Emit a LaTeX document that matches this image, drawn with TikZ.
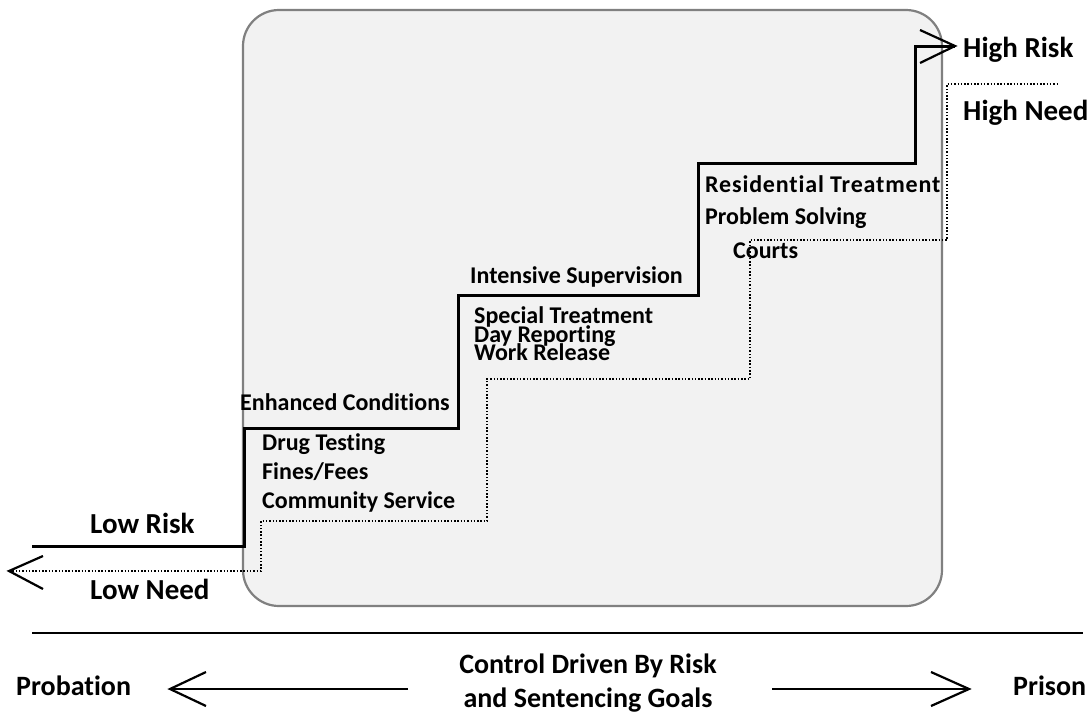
\documentclass[tikz,border=0pt]{standalone}
\usepackage{fontspec}
\setmainfont{Carlito}[Ligatures=CommonOff, RawFeature={-liga;-clig;-dlig;-calt}]
\definecolor{boxfill}{HTML}{F2F2F2}
\definecolor{boxedge}{HTML}{808080}
\tikzset{
  lbl/.style={anchor=base west, inner sep=0pt, font=\bfseries\fontsize{24}{24}\selectfont},
  biglbl/.style={anchor=base west, inner sep=0pt, font=\bfseries\fontsize{29}{29}\selectfont},
  botlbl/.style={anchor=base, inner sep=0pt, font=\bfseries\fontsize{28}{28}\selectfont},
  riskline/.style={line width=3pt, line join=miter},
  needline/.style={line width=2pt, dash pattern=on 1.5pt off 1.8pt},
  barb/.style={line width=2.2pt, line join=miter},
}
\begin{document}
\begin{tikzpicture}[x=1pt,y=-1pt]
\useasboundingbox (0,0) rectangle (1090,715);
% background box
\draw[rounded corners=36pt, fill=boxfill, draw=boxedge, line width=2.2pt] (243,10) rectangle (942,606);
% need (dotted) staircase
\coordinate (n0) at (9,571);
\coordinate (n1) at (261,571);
\coordinate (n2) at (261,521);
\coordinate (n3) at (487,521);
\coordinate (n4) at (487,379);
\coordinate (n5) at (750,379);
\coordinate (n6) at (750,240);
\coordinate (n7) at (947,240);
\coordinate (n8) at (947,84);
\coordinate (n9) at (1057,84);
\draw[needline] (n0) -- (n1) -- (n2) -- (n3) -- (n4) -- (n5) -- (n6) -- (n7) -- (n8) -- (n9);
\coordinate (na1) at (43,556);
\coordinate (na2) at (43,589);
\draw[barb] (na1) -- (n0) -- (na2);
% risk (solid) staircase
\coordinate (r0) at (32,546);
\coordinate (r1) at (244,546);
\coordinate (r2) at (244,428);
\coordinate (r3) at (458,428);
\coordinate (r4) at (458,295);
\coordinate (r5) at (698,295);
\coordinate (r6) at (698,163);
\coordinate (r7) at (915,163);
\coordinate (r8) at (915,46);
\coordinate (r9) at (955,46);
\draw[riskline] (r0) -- (r1) -- (r2) -- (r3) -- (r4) -- (r5) -- (r6) -- (r7) -- (r8) -- (r9);
\coordinate (ra1) at (920,30);
\coordinate (ra2) at (920,63);
\draw[barb] (ra1) -- (r9) -- (ra2);
% labels
\node[biglbl] (lowrisk) at (90,533) {Low Risk};
\node[biglbl] (lowneed) at (90,599) {Low Need};
\node[biglbl] (highrisk) at (963,57) {High Risk};
\node[biglbl] (highneed) at (963,120) {High Need};
\node[lbl] (enh) at (240,410) {Enhanced Conditions};
\node[lbl] (drug) at (262,450) {Drug Testing};
\node[lbl] (fines) at (262,479) {Fines/Fees};
\node[lbl] (comm) at (262,508) {Community Service};
\node[lbl] (isup) at (470,283) {Intensive Supervision};
\node[lbl] (spec) at (474,323) {Special Treatment};
\node[lbl] (day) at (474,342) {Day Reporting};
\node[lbl] (work) at (474,360) {Work Release};
\node[lbl] (resi) at (705,192) {\addfontfeature{LetterSpace=3.5}Residential Treatment};
\node[lbl] (prob) at (705,224) {Problem Solving};
\node[lbl] (courts) at (733,258) {Courts};
% bottom
\coordinate (s0) at (32,633);
\coordinate (s1) at (1083,633);
\draw[line width=2.8pt] (s0) -- (s1);
\node[botlbl, anchor=base west] (probation) at (16,695) {Probation};
\node[botlbl, anchor=base west] (prison) at (1013,695) {Prison};
\node[botlbl] (ctrl1) at (588,673) {Control Driven By Risk};
\node[botlbl] (ctrl2) at (588,707) {and Sentencing Goals};
\coordinate (la) at (408,689);
\coordinate (lt) at (170,689);
\draw[barb] (la) -- (lt);
\draw[barb] (206,672) -- (lt) -- (206,706);
\coordinate (rb) at (772,689);
\coordinate (rt) at (969,689);
\draw[barb] (rb) -- (rt);
\draw[barb] (931,672) -- (rt) -- (931,706);
\end{tikzpicture}
\end{document}
